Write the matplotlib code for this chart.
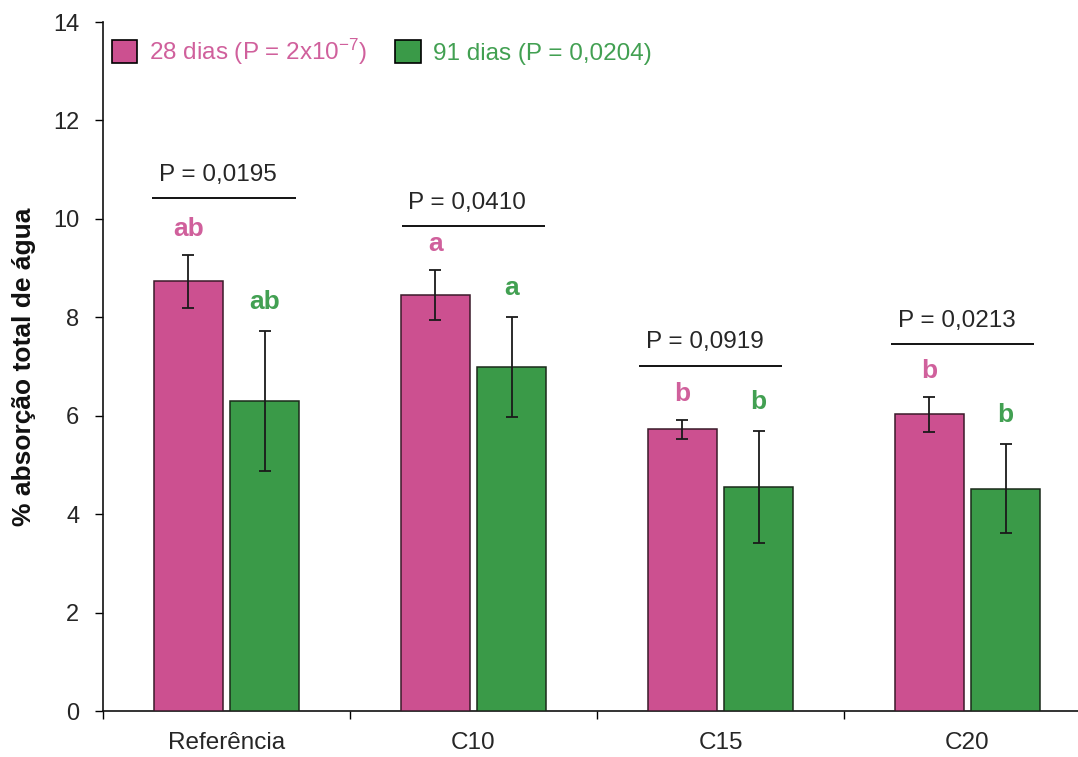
import matplotlib
matplotlib.use("Agg")
import matplotlib.pyplot as plt
import numpy as np

plt.rcParams["font.family"] = ["Liberation Sans", "DejaVu Sans"]
plt.rcParams["mathtext.fontset"] = "custom"
plt.rcParams["mathtext.rm"] = "Liberation Sans"
plt.rcParams["mathtext.it"] = "Liberation Sans:italic"

# ── data ──────────────────────────────────────────────────────────────────────
categories = ["Referência", "C10", "C15", "C20"]
dias28 = [8.73, 8.45, 5.72, 6.03]
dias28_err = [0.54, 0.51, 0.20, 0.36]
dias91 = [6.30, 6.99, 4.55, 4.52]
dias91_err = [1.43, 1.02, 1.14, 0.91]
letras28 = ["ab", "a", "b", "b"]
letras91 = ["ab", "a", "b", "b"]
p_valores = ["0,0195", "0,0410", "0,0919", "0,0213"]

PINK = "#cc5090"
GREEN = "#3a9a48"
PINK_TXT = "#d0609c"
GREEN_TXT = "#42a052"
TXT = "#262626"

fig = plt.figure(figsize=(10.78, 7.57), dpi=100)
fig.patch.set_facecolor("white")
ax = fig.add_axes([103 / 1078, 46 / 757, 988 / 1078, 689 / 757])

x = np.arange(len(categories)) + 0.5
w = 0.28
off = 0.155

err_kw = dict(ecolor="#1a1a1a", elinewidth=1.3, capsize=4.5, capthick=1.3)
ax.bar(x - off, dias28, w, yerr=dias28_err, color=PINK, edgecolor="#3a1a2a",
       linewidth=1.1, error_kw=err_kw, label="28 dias (P = 2x10$^{-7}$)", zorder=3)
ax.bar(x + off, dias91, w, yerr=dias91_err, color=GREEN, edgecolor="#1a2a1a",
       linewidth=1.1, error_kw=err_kw, label="91 dias (P = 0,0204)", zorder=3)

# letters of the post-hoc groups above each error bar
for xi, v, e, t in zip(x - off, dias28, dias28_err, letras28):
    ax.text(xi, v + e + 0.52, t, ha="center", va="center", fontsize=19,
            fontweight="bold", color=PINK_TXT)
for xi, v, e, t in zip(x + off, dias91, dias91_err, letras91):
    ax.text(xi, v + e + 0.58, t, ha="center", va="center", fontsize=19,
            fontweight="bold", color=GREEN_TXT)

# P brackets per group
bracket_y = [10.43, 9.86, 7.02, 7.46]
bracket_dx = [-0.01, 0.0, -0.04, -0.02]
for xi, yb, dx, p in zip(x, bracket_y, bracket_dx, p_valores):
    ax.plot([xi + dx - 0.29, xi + dx + 0.29], [yb, yb], color="black", lw=1.3,
            solid_capstyle="butt")
    ax.text(xi + dx - 0.025, yb + 0.47, f"P = {p}", ha="center", va="center",
            fontsize=17.5, color=TXT)

ax.set_xlim(0, 4)
ax.set_ylim(0, 14)
ax.set_yticks(np.arange(0, 15, 2))
ax.set_xticks([0, 1, 2, 3, 4])
ax.set_xticklabels([])
ax.set_xticks(x, minor=True)
ax.set_xticklabels(categories, minor=True, fontsize=17.5, color=TXT)
ax.tick_params(axis="x", which="minor", length=0, pad=15)
ax.tick_params(axis="x", which="major", length=6, width=1, direction="out")
ax.tick_params(axis="y", length=6, width=1, direction="out", labelsize=17, pad=11,
               labelcolor=TXT)

for s in ("top", "right"):
    ax.spines[s].set_visible(False)
for s in ("left", "bottom"):
    ax.spines[s].set_linewidth(1.2)
    ax.spines[s].set_color("#111111")

ax.set_ylabel("% absorção total de água", fontsize=19, fontweight="bold",
              labelpad=12, color="#111111")

leg = ax.legend(loc="upper left", bbox_to_anchor=(-0.006, 1.0), ncol=2, frameon=False,
                fontsize=17.5, handlelength=1.05, handleheight=1.05, handletextpad=0.5,
                columnspacing=1.15, borderaxespad=0.2)
for t, c in zip(leg.get_texts(), [PINK_TXT, GREEN_TXT]):
    t.set_color(c)
for h in leg.legend_handles:
    h.set_edgecolor("black")
    h.set_linewidth(1.2)

fig.savefig("out.png", dpi=100, facecolor="white")
